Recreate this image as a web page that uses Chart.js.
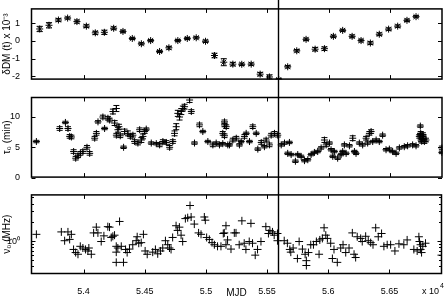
<!DOCTYPE html>
<html><head><meta charset="utf-8">
<script src="https://cdn.jsdelivr.net/npm/chart.js@4.4.1/dist/chart.umd.min.js"></script>
<style>
html,body{margin:0;padding:0;background:#fff;}
#wrap{position:relative;width:447px;height:302px;overflow:hidden;background:#fff;}
canvas{position:absolute;left:0;}
</style></head><body>
<div id="wrap">
<canvas id="c1" width="447" height="88" style="top:0px"></canvas>
<canvas id="c2" width="447" height="98" style="top:88px"></canvas>
<canvas id="c3" width="447" height="116" style="top:186px"></canvas>
</div>
<script>
// ---------- data ----------
const xMin = 53570, xMax = 56930;
const markerMJD = 55588;
const xTickValues = [54000, 54500, 55000, 55500, 56000, 56500];

const dmTicks = [-2, -1, 0, 1];
const dmMJD = [53641,53717,53794,53869,53945,54022,54095,54169,54245,54321,54397,54471,54547,54620,54696,54769,54846,54919,54995,55068,55144,55218,55291,55368,55441,55517,55593,55666,55740,55816,55890,55966,56039,56115,56192,56265,56341,56414,56490,56564,56640,56714];
const dmVal = [0.68,0.89,1.19,1.30,1.10,0.84,0.46,0.49,0.72,0.54,0.14,-0.16,0.02,-0.60,-0.39,0.02,0.14,0.18,-0.02,-0.83,-1.21,-1.32,-1.33,-1.32,-1.89,-2.05,-2.20,-1.47,-0.56,0.09,-0.47,-0.44,0.26,0.60,0.26,0.02,-0.12,0.38,0.67,0.84,1.17,1.38];
const dmErr = [0.15,0.15,0.08,0.06,0.09,0.08,0.09,0.12,0.08,0.07,0.06,0.06,0.06,0.06,0.08,0.06,0.06,0.06,0.07,0.13,0.20,0.10,0.07,0.07,0.10,0.12,0.06,0.07,0.07,0.07,0.10,0.10,0.07,0.06,0.08,0.08,0.08,0.08,0.07,0.07,0.07,0.06];

const tauTicks = [0, 5, 10];
const tauMJD = [53614,53804,53851,53872,53886,53900,53918,53935,53954,53973,53994,54027,54049,54090,54104,54117,54157,54171,54198,54212,54239,54253,54267,54267,54280,54288,54299,54326,54334,54361,54381,54402,54416,54443,54457,54471,54484,54498,54511,54552,54593,54620,54647,54675,54702,54728,54742,54756,54769,54783,54797,54810,54824,54865,54879,54905,54946,54973,55014,55055,55082,55109,55136,55136,55150,55150,55150,55164,55177,55191,55218,55246,55272,55286,55313,55327,55354,55381,55409,55422,55450,55476,55490,55517,55531,55558,55585,55613,55640,55666,55680,55694,55729,55748,55776,55803,55830,55857,55884,55911,55939,55966,55980,56007,56020,56034,56047,56074,56102,56115,56129,56143,56170,56197,56211,56224,56251,56278,56306,56319,56333,56347,56360,56388,56414,56441,56469,56496,56523,56551,56578,56618,56645,56686,56714,56741,56748,56749,56752,56755,56760,56768,56770,56775,56782,56795,56925,56925];
const tauVal = [5.95,8.1,9.1,8.1,6.8,6.7,4.3,3.2,3.6,4.0,4.3,5.0,4.0,6.5,7.3,9.2,10.0,8.1,9.8,9.5,10.9,9.0,11.4,7.0,7.9,8.4,6.9,5.0,7.6,7.3,6.8,7.0,5.95,5.7,7.9,6.2,6.8,7.6,8.0,5.7,5.6,5.4,5.95,5.8,5.0,5.95,7.3,8.4,10.6,10.0,10.9,11.4,11.7,12.8,10.9,5.7,8.7,7.6,5.95,5.4,5.7,5.4,7.3,5.6,9.2,8.7,6.9,8.4,5.4,5.4,6.2,6.5,5.4,5.95,6.8,7.3,5.95,8.4,7.3,4.7,5.8,5.1,6.2,5.4,7.0,7.3,7.0,5.4,5.7,4.0,5.8,3.8,2.7,3.8,3.5,2.8,2.95,3.8,4.15,4.3,4.9,6.2,5.4,5.7,4.6,3.5,4.3,3.2,3.8,4.3,5.4,4.0,5.25,6.5,4.3,4.0,5.7,5.4,6.5,5.7,7.3,7.6,5.95,6.2,5.95,7.0,4.6,4.7,4.3,4.0,4.9,5.1,5.25,5.4,5.25,6.8,7.0,8.5,7.3,6.2,6.0,6.5,7.1,6.7,5.95,6.2,4.9,4.15];
const tauErr = [0.2,0.3,0.2,0.3,0.3,0.3,0.3,0.3,0.3,0.3,0.3,0.3,0.3,0.3,0.3,0.2,0.3,0.2,0.3,0.3,0.4,0.4,0.5,0.3,0.4,0.4,0.3,0.2,0.4,0.4,0.3,0.3,0.3,0.3,0.3,0.4,0.4,0.3,0.2,0.2,0.2,0.3,0.3,0.3,0.3,0.3,0.4,0.5,0.5,0.5,0.5,0.4,0.4,0.4,0.3,0.2,0.3,0.2,0.2,0.3,0.2,0.2,0.3,0.2,0.3,0.3,0.3,0.3,0.2,0.2,0.3,0.3,0.2,0.2,0.3,0.2,0.2,0.3,0.2,0.2,0.3,0.2,0.3,0.3,0.3,0.3,0.3,0.2,0.2,0.2,0.2,0.2,0.2,0.2,0.2,0.2,0.2,0.2,0.2,0.2,0.2,0.4,0.3,0.2,0.2,0.2,0.2,0.2,0.2,0.2,0.2,0.2,0.2,0.4,0.2,0.2,0.2,0.2,0.3,0.2,0.3,0.3,0.2,0.2,0.2,0.2,0.2,0.2,0.2,0.2,0.2,0.2,0.2,0.2,0.2,0.3,0.3,0.2,0.3,0.3,0.3,0.3,0.3,0.3,0.3,0.3,0.3,0.2];

const nuTicks = [0.4,0.5,0.6,0.7,0.8,0.9,1,2,3,4,5];
const nuMJD = [53614,53818,53845,53872,53886,53900,53918,53935,53954,53973,53994,54016,54035,54043,54063,54082,54104,54117,54144,54166,54198,54212,54226,54239,54253,54267,54267,54267,54280,54294,54308,54326,54343,54356,54375,54402,54430,54438,54451,54471,54489,54503,54520,54565,54587,54606,54628,54647,54669,54688,54702,54715,54728,54756,54769,54783,54797,54810,54832,54851,54870,54879,54905,54940,54960,54987,54995,55006,55028,55050,55069,55095,55123,55142,55150,55164,55164,55177,55205,55232,55246,55272,55294,55313,55327,55354,55368,55381,55403,55422,55450,55490,55511,55523,55544,55558,55585,55585,55640,55666,55686,55694,55713,55748,55762,55789,55811,55821,55821,55838,55857,55879,55903,55925,55931,55952,55966,55980,55993,56020,56034,56047,56074,56102,56121,56143,56170,56197,56211,56224,56237,56265,56278,56306,56327,56347,56366,56388,56409,56436,56455,56482,56510,56545,56578,56618,56645,56700,56727,56741,56746,56755,56755,56763,56773,56795,56926];
const nuVal = [1.29,1.41,1.02,1.41,1.07,1.29,0.74,0.66,0.62,0.83,0.78,0.74,0.70,0.78,0.62,1.36,1.68,1.36,0.99,1.22,1.71,1.68,1.15,1.2,1.25,0.83,0.67,0.46,0.78,2.07,0.83,0.46,0.74,0.66,0.75,0.88,1.02,1.18,0.93,0.95,1.29,0.70,0.62,0.67,0.74,0.63,0.70,0.78,1.02,0.88,0.78,0.74,1.15,1.77,1.49,1.68,1.25,0.99,2.3,2.38,3.72,2.44,1.88,1.36,1.29,2.44,2.17,1.15,1.07,0.95,0.88,0.83,0.83,1.33,1.36,1.77,0.88,1.05,0.75,1.36,1.36,0.88,2.12,0.93,0.74,0.99,1.93,0.93,0.60,0.74,0.99,1.71,1.33,1.49,1.41,1.25,1.33,1.02,1.02,0.93,0.74,0.67,0.78,0.53,0.99,0.75,0.62,0.49,0.41,0.66,0.88,0.88,0.99,0.62,1.05,1.11,1.64,1.25,1.11,0.93,0.53,0.74,0.46,0.78,0.88,0.66,0.78,1.36,0.62,0.55,1.18,1.11,0.99,1.2,1.02,0.95,0.88,1.64,1.18,1.33,0.83,0.88,0.88,0.70,0.91,0.88,1.05,0.74,0.70,1.18,0.99,0.88,0.74,0.66,0.83,0.93,0.60];

// ---------- helpers ----------
const FONT = "'Liberation Sans', Arial, sans-serif";
const pts = (xs, ys) => xs.map((x, i) => ({x, y: ys[i]}));

function overlay(cfg) {
  return {
    id: 'overlay',
    afterDatasetsDraw(chart) {
      const {ctx, chartArea: a, scales} = chart;
      const xs = scales.x, ys = scales.y;
      ctx.save();
      ctx.strokeStyle = '#000';
      ctx.lineWidth = 1;
      // error bars
      ctx.save();
      ctx.beginPath(); ctx.rect(a.left, a.top, a.width, a.height); ctx.clip();
      chart.data.datasets.forEach(ds => {
        if (!ds.errors) return;
        ctx.beginPath();
        ds.data.forEach((p, j) => {
          const e = ds.errors[j];
          const x = xs.getPixelForValue(p.x);
          const y1 = ys.getPixelForValue(p.y - e), y2 = ys.getPixelForValue(p.y + e);
          ctx.moveTo(x, y1); ctx.lineTo(x, y2);
          ctx.moveTo(x - 3, y1); ctx.lineTo(x + 3, y1);
          ctx.moveTo(x - 3, y2); ctx.lineTo(x + 3, y2);
        });
        ctx.stroke();
      });
      ctx.restore();
      // frame
      const L = a.left + 0.5, R = a.right - 0.5, T = a.top + 0.5, B = a.bottom - 0.5;
      ctx.lineWidth = 1.5;
      ctx.strokeRect(L, T, R - L, B - T);
      ctx.lineWidth = 1;
      ctx.beginPath();
      xTickValues.forEach(v => {
        const x = Math.round(xs.getPixelForValue(v)) + 0.5;
        ctx.moveTo(x, B); ctx.lineTo(x, B - 4);
        ctx.moveTo(x, T); ctx.lineTo(x, T + 4);
      });
      cfg.yTicks.forEach(v => {
        const y = Math.round(ys.getPixelForValue(v)) + 0.5;
        const len = cfg.isMajor(v) ? 4 : 2.5;
        ctx.moveTo(L, y); ctx.lineTo(L + len, y);
        ctx.moveTo(R, y); ctx.lineTo(R - len, y);
      });
      ctx.stroke();
      // vertical marker line
      const vx = Math.round(xs.getPixelForValue(markerMJD)) + 0.5;
      ctx.lineWidth = 1.4;
      ctx.beginPath();
      ctx.moveTo(vx, 0);
      ctx.lineTo(vx, cfg.lineToArea ? a.bottom : chart.height);
      ctx.stroke();
      if (cfg.exponent) {
        ctx.fillStyle = '#000';
        ctx.textBaseline = 'alphabetic';
        ctx.textAlign = 'left';
        ctx.font = '9px ' + FONT;
        ctx.fillText('x 10', 422, 108);
        ctx.font = '7px ' + FONT;
        ctx.fillText('4', 440, 102);
      }
      ctx.restore();
    }
  };
}

function makeChart(id, opt) {
  const xScale = {
    type: 'linear', min: xMin, max: xMax,
    display: opt.showX,
    grid: {display: false}, border: {display: false},
    afterBuildTicks: s => { s.ticks = xTickValues.map(v => ({value: v})); },
    afterFit: s => { if (opt.showX) s.height = 28; },
    ticks: {
      autoSkip: false, maxRotation: 0, padding: 4, color: '#000',
      font: {family: FONT, size: 9},
      callback: v => String(v / 10000)
    },
    title: {display: opt.showX, text: 'MJD', color: '#000', font: {family: FONT, size: 10}, padding: {top: 0, bottom: 3}}
  };
  const yScale = Object.assign({
    grid: {display: false}, border: {display: false},
    afterBuildTicks: s => { s.ticks = opt.yTicks.map(v => ({value: v})); },
    afterFit: s => { s.width = 31; },
    ticks: {autoSkip: false, padding: 3, color: '#000', font: {family: FONT, size: 9}, callback: opt.yLabel},
    title: {display: true, text: opt.yTitle, color: '#000', font: {family: FONT, size: 10}, padding: {top: 1, bottom: 0}}
  }, opt.yScale);
  return new Chart(document.getElementById(id), {
    type: 'scatter',
    data: {datasets: [{
      data: opt.data, errors: opt.errors,
      pointStyle: opt.pointStyle, radius: opt.radius, hoverRadius: opt.radius,
      borderColor: '#000', backgroundColor: '#000', borderWidth: 1, showLine: false
    }]},
    options: {
      responsive: false, animation: false, devicePixelRatio: 1,
      layout: {padding: opt.padding},
      plugins: {legend: {display: false}, tooltip: {enabled: false}},
      scales: {x: xScale, y: yScale}
    },
    plugins: [overlay({yTicks: opt.yTicks, isMajor: opt.isMajor, lineToArea: opt.lineToArea, exponent: opt.exponent})]
  });
}

makeChart('c1', {
  data: pts(dmMJD, dmVal), errors: dmErr, pointStyle: 'star', radius: 3.5,
  yTicks: dmTicks, isMajor: () => true, yLabel: v => String(v),
  yScale: {type: 'linear', min: -2.2, max: 1.85},
  yTitle: 'δDM (t) x 10⁻³',
  padding: {left: 0, right: 4, top: 2, bottom: 8}, showX: false
});
makeChart('c2', {
  data: pts(tauMJD, tauVal), errors: tauErr, pointStyle: 'cross', radius: 3.5,
  yTicks: tauTicks, isMajor: () => true, yLabel: v => String(v),
  yScale: {type: 'linear', min: 0, max: 13.3},
  yTitle: 'τ₀ (min)',
  padding: {left: 0, right: 4, top: 9, bottom: 8}, showX: false
});
makeChart('c3', {
  data: pts(nuMJD, nuVal), errors: null, pointStyle: 'cross', radius: 4,
  yTicks: nuTicks, isMajor: v => v === 1, yLabel: v => (v === 1 ? '10⁰' : ''),
  yScale: {type: 'logarithmic', min: 0.34, max: 5.6},
  yTitle: 'ν₀ (MHz)',
  padding: {left: 0, right: 4, top: 8, bottom: 0}, showX: true,
  lineToArea: true, exponent: true
});
</script>
</body></html>
